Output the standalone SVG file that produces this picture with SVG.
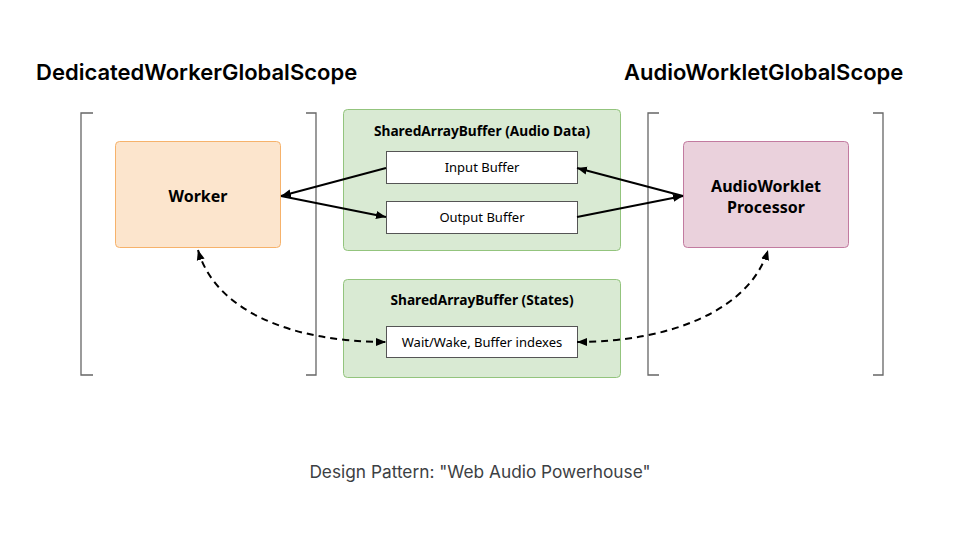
<svg xmlns="http://www.w3.org/2000/svg" width="960" height="540" viewBox="0 0 960 540">
<defs>
<marker id="ah" viewBox="0 0 10 10" refX="10" refY="5" markerWidth="10" markerHeight="10" markerUnits="userSpaceOnUse" orient="auto-start-reverse">
<path d="M0,1 L10,5 L0,9 z" fill="#000"/>
</marker>
<style>
.br{fill:none;stroke:#666;stroke-width:1.3}
.title{font-family:Inter,"Noto Sans",sans-serif;font-weight:600;font-size:22px;fill:#000}
.lbl{font-family:"Noto Sans",sans-serif;fill:#000;text-anchor:middle}
.buf{fill:#fff;stroke:#555;stroke-width:1}
.sab{fill:#d9ead3;stroke:#93c47d;stroke-width:1}
.ln{fill:none;stroke:#000;stroke-width:2}
.dash{stroke-dasharray:7,5}
</style>
</defs>
<rect width="960" height="540" fill="#fff"/>
<text class="title" x="36" y="80">DedicatedWorkerGlobalScope</text>
<text class="title" x="624" y="80">AudioWorkletGlobalScope</text>
<g id="brackets">
<path class="br" d="M93,113 H81 V375 H93"/>
<path class="br" d="M306,113 H316 V375 H306"/>
<path class="br" d="M659,113 H648 V375 H659"/>
<path class="br" d="M873,113 H883 V375 H873"/>
</g>
<g id="worker">
<rect x="115.5" y="141.5" width="165" height="106" rx="4" fill="#fce5cd" stroke="#f6b26b"/>
<text class="lbl" x="198" y="202" font-size="16" font-weight="bold">Worker</text>
</g>
<g id="processor">
<rect x="683.5" y="141.5" width="165" height="106" rx="4" fill="#ead1dc" stroke="#c27ba0"/>
<text class="lbl" x="766" y="192" font-size="16" font-weight="bold">AudioWorklet</text>
<text class="lbl" x="766" y="213" font-size="16" font-weight="bold">Processor</text>
</g>
<g id="sab-audio">
<rect class="sab" x="343.5" y="109.5" width="277" height="141" rx="4"/>
<text class="lbl" x="482" y="136" font-size="13.7" font-weight="bold">SharedArrayBuffer (Audio Data)</text>
</g>
<g id="input-buffer">
<rect class="buf" x="386.5" y="151.5" width="191" height="32"/>
<text class="lbl" x="482" y="172" font-size="13">Input Buffer</text>
</g>
<g id="output-buffer">
<rect class="buf" x="386.5" y="201.5" width="191" height="32"/>
<text class="lbl" x="482" y="222" font-size="13">Output Buffer</text>
</g>
<g id="sab-states">
<rect class="sab" x="343.5" y="279.5" width="277" height="98" rx="4"/>
<text class="lbl" x="482" y="305" font-size="13.7" font-weight="bold">SharedArrayBuffer (States)</text>
</g>
<g id="wait-wake">
<rect class="buf" x="386.5" y="326.5" width="191" height="31"/>
<text class="lbl" x="482" y="347" font-size="13">Wait/Wake, Buffer indexes</text>
</g>
<g id="connectors">
<path class="ln" d="M386,168 L281,196" marker-end="url(#ah)"/>
<path class="ln" d="M281,196 L386,217" marker-end="url(#ah)"/>
<path class="ln" d="M683,196 L577,168" marker-end="url(#ah)"/>
<path class="ln" d="M577,217 L683,196" marker-end="url(#ah)"/>
<path class="ln dash" d="M198,250 C215,310 290,342 386,342" marker-start="url(#ah)" marker-end="url(#ah)"/>
<path class="ln dash" d="M577,342 C670,342 750,310 768,250" marker-start="url(#ah)" marker-end="url(#ah)"/>
</g>
<text x="480" y="478" font-family="Inter,'Noto Sans',sans-serif" font-size="17.3" fill="#3c4043" text-anchor="middle">Design Pattern: "Web Audio Powerhouse"</text>
</svg>
